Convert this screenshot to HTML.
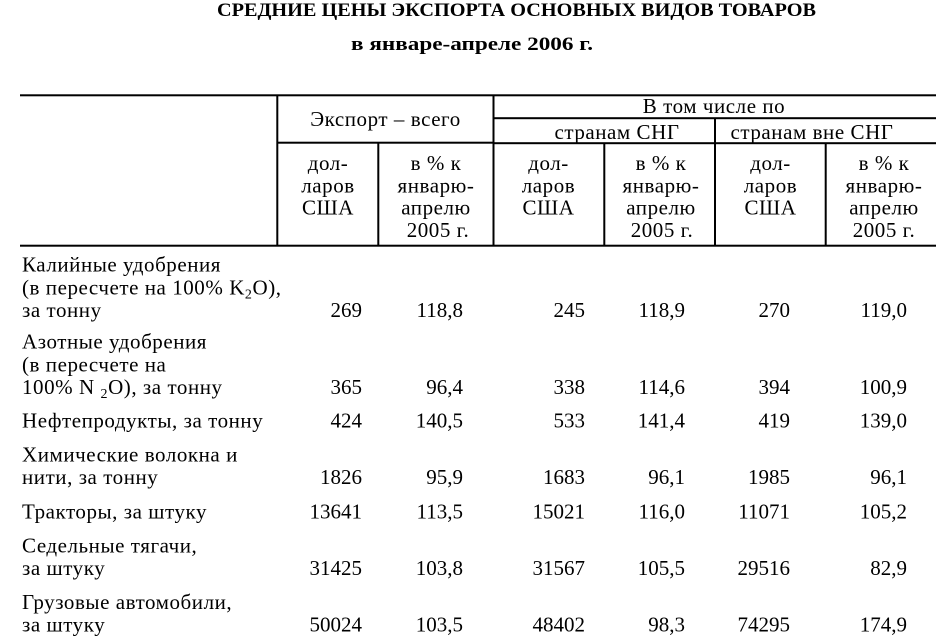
<!DOCTYPE html>
<html>
<head>
<meta charset="utf-8">
<style>
html,body{margin:0;padding:0;background:#fff;}
svg{display:block;}
text{font-family:"Liberation Serif","Noto Serif CJK SC",serif;fill:#000;}
.t{font-size:21px;}
.ls{letter-spacing:0.55px;}
.b{font-size:19px;font-weight:bold;}
</style>
</head>
<body>
<svg width="946" height="642" viewBox="0 0 946 642" xmlns="http://www.w3.org/2000/svg">
<rect x="0" y="0" width="946" height="642" fill="#fff"/>

<!-- Title -->
<text class="b" x="217" y="16" textLength="599" lengthAdjust="spacingAndGlyphs">СРЕДНИЕ ЦЕНЫ ЭКСПОРТА ОСНОВНЫХ ВИДОВ ТОВАРОВ</text>
<text class="b" x="351" y="50" textLength="242" lengthAdjust="spacingAndGlyphs">в январе-апреле 2006 г.</text>

<!-- Table lines -->
<rect x="20" y="94.3" width="916" height="2" fill="#000"/>
<rect x="20" y="244.7" width="916" height="2" fill="#000"/>
<rect x="277" y="141.7" width="216.5" height="2" fill="#000"/>
<rect x="493" y="117.2" width="443" height="2" fill="#000"/>
<rect x="493" y="142.2" width="443" height="2" fill="#000"/>
<rect x="276.3" y="95" width="2" height="150.5" fill="#000"/>
<rect x="377.3" y="142" width="2" height="103.5" fill="#000"/>
<rect x="492.5" y="95" width="2" height="150.5" fill="#000"/>
<rect x="603.3" y="143" width="2" height="102.5" fill="#000"/>
<rect x="714" y="118" width="2" height="127.5" fill="#000"/>
<rect x="824.7" y="143" width="2" height="102.5" fill="#000"/>

<!-- Header texts -->
<g class="t ls" text-anchor="middle">
<text x="385.5" y="126">Экспорт – всего</text>
<text x="714" y="113">В том числе по</text>
<text x="617" y="139">странам СНГ</text>
<text x="812" y="139">странам вне СНГ</text>

<text x="328" y="170">дол-</text>
<text x="328" y="192.3">ларов</text>
<text x="328" y="214.6">США</text>
<text x="436" y="170">в % к</text>
<text x="436" y="192.3">январю-</text>
<text x="436" y="214.6">апрелю</text>
<text x="438" y="237">2005 г.</text>

<text x="548.5" y="170">дол-</text>
<text x="548.5" y="192.3">ларов</text>
<text x="548.5" y="214.6">США</text>
<text x="661" y="170">в % к</text>
<text x="661" y="192.3">январю-</text>
<text x="661" y="214.6">апрелю</text>
<text x="662" y="237">2005 г.</text>

<text x="770.5" y="170">дол-</text>
<text x="770.5" y="192.3">ларов</text>
<text x="770.5" y="214.6">США</text>
<text x="884" y="170">в % к</text>
<text x="884" y="192.3">январю-</text>
<text x="884" y="214.6">апрелю</text>
<text x="884" y="237">2005 г.</text>
</g>

<!-- Row labels -->
<g class="t ls">
<text x="22" y="271.6">Калийные удобрения</text>
<text x="22" y="294.3">(в пересчете на 100% K<tspan font-size="14" dy="4">2</tspan><tspan dy="-4">O),</tspan></text>
<text x="22" y="317">за тонну</text>

<text x="22" y="348.6">Азотные удобрения</text>
<text x="22" y="371.3">(в пересчете на</text>
<text x="22" y="394">100% N <tspan font-size="14" dy="4">2</tspan><tspan dy="-4">O), за тонну</tspan></text>

<text x="22" y="427.5">Нефтепродукты, за тонну</text>

<text x="22" y="461.3">Химические волокна и</text>
<text x="22" y="484">нити, за тонну</text>

<text x="22" y="518.5">Тракторы, за штуку</text>

<text x="22" y="552.3">Седельные тягачи,</text>
<text x="22" y="575">за штуку</text>

<text x="22" y="608.8">Грузовые автомобили,</text>
<text x="22" y="631.5">за штуку</text>
</g>

<!-- Data -->
<g class="t" text-anchor="end">
<text x="362" y="317">269</text><text x="463" y="317">118,8</text><text x="585" y="317">245</text><text x="685" y="317">118,9</text><text x="790" y="317">270</text><text x="907" y="317">119,0</text>

<text x="362" y="394">365</text><text x="463" y="394">96,4</text><text x="585" y="394">338</text><text x="685" y="394">114,6</text><text x="790" y="394">394</text><text x="907" y="394">100,9</text>

<text x="362" y="427.5">424</text><text x="463" y="427.5">140,5</text><text x="585" y="427.5">533</text><text x="685" y="427.5">141,4</text><text x="790" y="427.5">419</text><text x="907" y="427.5">139,0</text>

<text x="362" y="484">1826</text><text x="463" y="484">95,9</text><text x="585" y="484">1683</text><text x="685" y="484">96,1</text><text x="790" y="484">1985</text><text x="907" y="484">96,1</text>

<text x="362" y="518.5">13641</text><text x="463" y="518.5">113,5</text><text x="585" y="518.5">15021</text><text x="685" y="518.5">116,0</text><text x="790" y="518.5">11071</text><text x="907" y="518.5">105,2</text>

<text x="362" y="575">31425</text><text x="463" y="575">103,8</text><text x="585" y="575">31567</text><text x="685" y="575">105,5</text><text x="790" y="575">29516</text><text x="907" y="575">82,9</text>

<text x="362" y="631.5">50024</text><text x="463" y="631.5">103,5</text><text x="585" y="631.5">48402</text><text x="685" y="631.5">98,3</text><text x="790" y="631.5">74295</text><text x="907" y="631.5">174,9</text>
</g>
</svg>
</body>
</html>
